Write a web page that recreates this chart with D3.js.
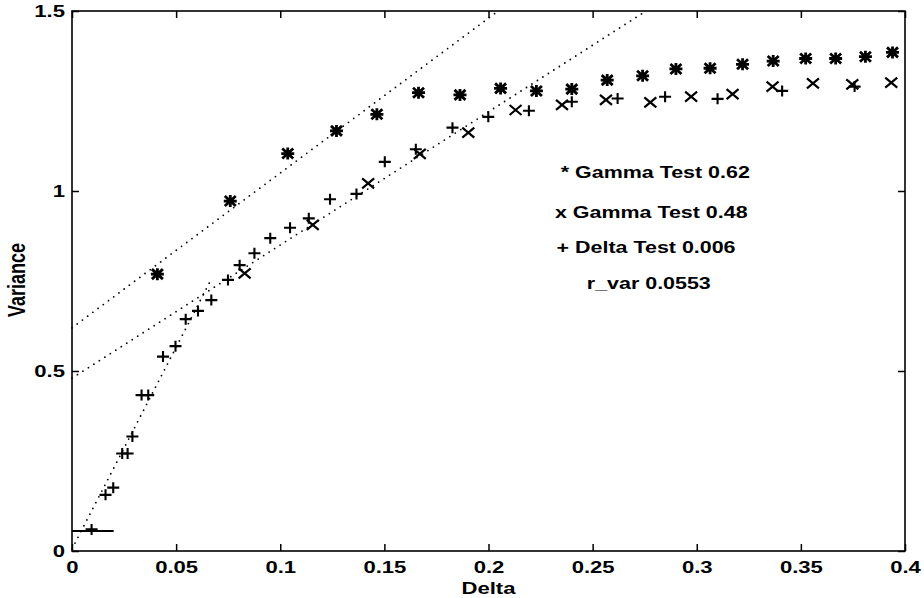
<!doctype html>
<html>
<head>
<meta charset="utf-8">
<title>Variance vs Delta</title>
<script src="https://cdn.jsdelivr.net/npm/d3@7"></script>
<style>
  body { margin: 0; background: white; }
  svg { display: block; }
  text {
    font-family: "Liberation Sans", Arial, Helvetica, sans-serif;
    font-weight: bold;
    fill: black;
  }
</style>
</head>
<body>
<svg id="chart" width="924" height="598"></svg>

<script>
// values
var xTicks = [0, 0.05, 0.1, 0.15, 0.2, 0.25, 0.3, 0.35, 0.4];
var xTickLabels = ['0', '0.05', '0.1', '0.15', '0.2', '0.25', '0.3', '0.35', '0.4'];
var yTicks = [0, 0.5, 1, 1.5];
var yTickLabels = ['0', '0.5', '1', '1.5'];

// '*' series (Gamma Test 0.62)
var starDelta = [0.041, 0.076, 0.1036, 0.127, 0.1464, 0.1664, 0.1863, 0.2058, 0.223, 0.240,
                 0.257, 0.274, 0.290, 0.3064, 0.322, 0.3367, 0.3523, 0.3667, 0.381, 0.394];
var starVar   = [0.769, 0.972, 1.104, 1.167, 1.213, 1.273, 1.267, 1.285, 1.278, 1.283,
                 1.308, 1.320, 1.339, 1.341, 1.352, 1.361, 1.368, 1.368, 1.373, 1.385];

// 'x' series (Gamma Test 0.48)
var crossDelta = [0.0829, 0.1156, 0.1422, 0.167, 0.1903, 0.213, 0.2353, 0.2564, 0.2777, 0.2973,
                  0.3172, 0.3364, 0.3558, 0.3747, 0.3934];
var crossVar   = [0.771, 0.906, 1.021, 1.103, 1.162, 1.225, 1.239, 1.253, 1.246, 1.262,
                  1.269, 1.290, 1.299, 1.296, 1.301];

// '+' series (Delta Test 0.006)
var plusDelta = [0.0094, 0.0161, 0.0198, 0.0241, 0.0267, 0.029, 0.0334, 0.0366, 0.0437, 0.0497,
                 0.0546, 0.0605, 0.0669, 0.0749, 0.0805, 0.0876, 0.0952, 0.1047, 0.1137, 0.1239,
                 0.1366, 0.1502, 0.1651, 0.1827, 0.1999, 0.2194, 0.240, 0.262, 0.2848, 0.310,
                 0.341, 0.3758];
var plusVar   = [0.060, 0.156, 0.176, 0.271, 0.271, 0.318, 0.433, 0.433, 0.540, 0.569,
                 0.644, 0.667, 0.697, 0.753, 0.794, 0.827, 0.869, 0.898, 0.924, 0.977,
                 0.992, 1.081, 1.116, 1.176, 1.206, 1.223, 1.248, 1.257, 1.262, 1.256,
                 1.278, 1.290];

// dotted regression lines: intercept + slope * delta
var fitIntercepts = [0.62, 0.48, 0.006];
var fitSlopes = [4.3, 3.7, 11.2];
var fitMaxDelta = [0.4, 0.4, 0.066];

// short solid line at r_var
var rVar = 0.0553;
var rVarDelta = [0, 0.02];

var noteLabels = ['* Gamma Test 0.62', 'x Gamma Test 0.48', '+ Delta Test 0.006', 'r_var 0.0553'];
var noteDelta = [0.2347, 0.2319, 0.2327, 0.2472];
var noteVar = [1.0375, 0.926, 0.829, 0.728];

var svgWidth = 924, svgHeight = 598;
var margin = {top: 11, right: 19, bottom: 47, left: 72};
var width = svgWidth - margin.left - margin.right;
var height = svgHeight - margin.top - margin.bottom;
var sx = 1.3; // the scan is stretched sideways, so stretch the text too

var svg = d3.select('#chart');
var g = svg.append('g')
    .attr('transform', 'translate(' + margin.left + ',' + margin.top + ')');

var x = d3.scaleLinear().domain([0, 0.4]).range([0, width]);
var y = d3.scaleLinear().domain([0, 1.5]).range([height, 0]);

// axes, ticks pointing inwards like matlab
var xAxis = g.append('g')
    .attr('transform', 'translate(0,' + height + ')')
    .call(d3.axisBottom(x).tickValues(xTicks)
        .tickFormat(function (d, i) { return xTickLabels[i]; })
        .tickSizeInner(-7).tickSizeOuter(0).tickPadding(10));
xAxis.selectAll('text')
    .attr('font-size', 17)
    .attr('transform', 'scale(' + sx + ',1)');

var yAxis = g.append('g')
    .call(d3.axisLeft(y).tickValues(yTicks)
        .tickFormat(function (d, i) { return yTickLabels[i]; })
        .tickSizeInner(-7).tickSizeOuter(0));
yAxis.selectAll('text')
    .attr('font-size', 17)
    .attr('x', -7 / sx)
    .attr('transform', 'scale(' + sx + ',1)');

g.append('g')
    .call(d3.axisTop(x).tickValues(xTicks).tickFormat('')
        .tickSizeInner(-7).tickSizeOuter(0));
g.append('g')
    .attr('transform', 'translate(' + width + ',0)')
    .call(d3.axisRight(y).tickValues(yTicks).tickFormat('')
        .tickSizeInner(-7).tickSizeOuter(0));

g.selectAll('.domain').remove();
g.selectAll('.tick line').attr('stroke', 'black').attr('stroke-width', 1.5);

g.append('rect')
    .attr('width', width)
    .attr('height', height)
    .attr('fill', 'none')
    .attr('stroke', 'black')
    .attr('stroke-width', 1.6);

// axis titles
g.append('text')
    .attr('transform', 'translate(' + (width / 2) + ',' + (height + 43) + ') scale(' + sx + ',1)')
    .attr('text-anchor', 'middle')
    .attr('font-size', 17)
    .text('Delta');
g.append('text')
    .attr('transform', 'translate(' + (-47) + ',' + (height / 2 - 1) + ') scale(' + sx + ',1) rotate(-90)')
    .attr('text-anchor', 'middle')
    .attr('font-size', 18)
    .text('Variance');

// dotted fits
var line = d3.line()
    .x(function (d) { return x(d[0]); })
    .y(function (d) { return y(d[1]); });

fitIntercepts.forEach(function (b, i) {
  var m = fitSlopes[i];
  var xEnd = Math.min(fitMaxDelta[i], (1.5 - b) / m);
  g.append('path')
      .datum([[0, b], [xEnd, b + m * xEnd]])
      .attr('d', line)
      .attr('fill', 'none')
      .attr('stroke', 'black')
      .attr('stroke-width', 1.8)
      .attr('stroke-linecap', 'round')
      .attr('stroke-dasharray', '0,6.5');
});

g.append('path')
    .datum(rVarDelta.map(function (d) { return [d, rVar]; }))
    .attr('d', line)
    .attr('fill', 'none')
    .attr('stroke', 'black')
    .attr('stroke-width', 2);

// markers
var starShape = 'M-6.5,0H6.5M0,-6V6M-5.5,-5L5.5,5M-5.5,5L5.5,-5';
var crossShape = 'M-6,-5L6,5M-6,5L6,-5';
var plusShape = 'M-6,0H6M0,-5.5V5.5';

function drawMarkers(xs, ys, shape, sw) {
  g.append('g').selectAll('path')
      .data(xs.map(function (d, i) { return [d, ys[i]]; }))
      .enter().append('path')
      .attr('d', shape)
      .attr('transform', function (d) { return 'translate(' + x(d[0]) + ',' + y(d[1]) + ')'; })
      .attr('fill', 'none')
      .attr('stroke', 'black')
      .attr('stroke-width', sw);
}

drawMarkers(starDelta, starVar, starShape, 2.8);
drawMarkers(crossDelta, crossVar, crossShape, 2.2);
drawMarkers(plusDelta, plusVar, plusShape, 2.1);

// text notes inside the plot
g.selectAll('.note')
    .data(noteLabels)
    .enter().append('text')
    .attr('class', 'note')
    .attr('font-size', 16.5)
    .attr('transform', function (d, i) {
      return 'translate(' + x(noteDelta[i]) + ',' + y(noteVar[i]) + ') scale(' + sx + ',1)';
    })
    .text(function (d) { return d; });
</script>
</body>
</html>
